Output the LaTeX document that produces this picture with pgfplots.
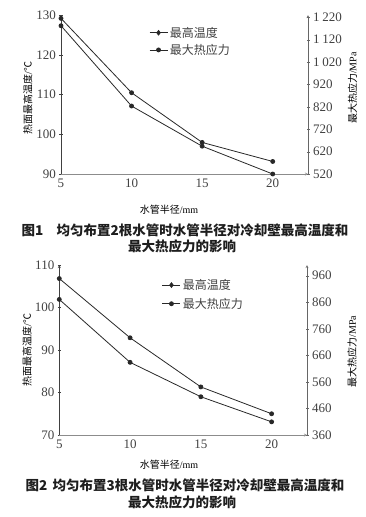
\documentclass[border=0pt]{standalone}
\usepackage{pgfplots}
\pgfplotsset{compat=1.18}
\usepackage{fontspec}
\setmainfont{Liberation Serif}
\newfontfamily\cjk{Noto Sans CJK SC}
\definecolor{txt}{RGB}{65,65,65}
\definecolor{cap}{RGB}{30,30,30}
\definecolor{ln}{RGB}{40,40,40}
\pgfplotsset{
  base/.style={
    scale only axis, clip=false,
    xmin=5, xmax=22.5, xtick={5,10,15,20},
    /pgf/number format/assume math mode=true,
    /pgf/number format/1000 sep={\hspace{0.22em}},
    ticklabel style={font=\fontsize{13}{13}\selectfont, text=txt},
    tick align=outside, major tick length=3pt,
    xtick style={draw=none},
    axis line style={-},
    label style={font=\fontsize{12}{12}\selectfont, text=txt},
  },
  ser/.style={color=ln, line width=0.8pt, mark=*, mark size=2pt},
}
\begin{document}
\begin{tikzpicture}
\path[use as bounding box] (0pt,0pt) rectangle (366pt,-517pt);
% ---------------- Chart 1 ----------------
\begin{axis}[base, at={(61pt,-174pt)}, anchor=south west, width=247pt, height=159pt,
  axis x line=bottom, axis y line=left,
  x axis line style={black!45}, y axis line style={black!75},
  ytick style={black!75},
  ymin=90, ymax=130, ytick={90,100,110,120,130},
  xlabel={{\cjk 水管半径}/mm},
  every axis x label/.style={at={(axis description cs:0.437,-0.226)}, anchor=center},
  ylabel={{\cjk 热面最高温度}/{\cjk ℃}},
  every axis y label/.style={at={(axis description cs:-0.134,0.48)}, rotate=90, anchor=center},
]
\addplot[ser] coordinates {(5,127.3) (10,107.1) (15,97.0) (20,90.0)};
\end{axis}
\begin{axis}[base, at={(61pt,-174pt)}, anchor=south west, width=247pt, height=159pt,
  axis x line=none, axis y line=right,
  y axis line style={black!60}, ytick style={black!60},
  ymin=520, ymax=1230, ytick={520,620,720,820,920,1020,1120,1220},
  ylabel={{\cjk 最大热应力}/MPa},
  every axis y label/.style={at={(axis description cs:1.18,0.54)}, rotate=90, anchor=center},
  legend style={at={(axis description cs:0.352,0.945)}, anchor=north west, draw=none, fill=none,
    font=\cjk\fontsize{12}{12}\selectfont, text=txt, row sep=1.5pt, inner sep=1pt},
  legend cell align=left,
  legend image code/.code={\draw[mark repeat=2,mark phase=2,#1] plot coordinates {(0pt,0pt) (9pt,0pt) (18pt,0pt)};},
]
\addlegendimage{ser, mark=diamond*, mark size=2.3pt}
\addlegendentry{最高温度}
\addplot[ser] coordinates {(5,1215) (10,883) (15,661) (20,576)};
\addlegendentry{最大热应力}
\end{axis}
\node[font=\cjk\bfseries\fontsize{13.5}{14}\selectfont, text=cap, anchor=center] at (185pt,-230pt) {图1\hspace{1em}均匀布置2根水管时水管半径对冷却壁最高温度和};
\node[font=\cjk\bfseries\fontsize{13.5}{14}\selectfont, text=cap, anchor=center] at (182pt,-246pt) {最大热应力的影响};
% ---------------- Chart 2 ----------------
\begin{axis}[base, at={(59.3pt,-435pt)}, anchor=south west, width=247.7pt, height=170pt,
  axis x line=bottom, axis y line=left,
  x axis line style={black!45}, y axis line style={black!75},
  ytick style={black!75},
  ymin=70, ymax=110, ytick={70,80,90,100,110},
  xlabel={{\cjk 水管半径}/mm},
  every axis x label/.style={at={(axis description cs:0.443,-0.176)}, anchor=center},
  ylabel={{\cjk 热面最高温度}/{\cjk ℃}},
  every axis y label/.style={at={(axis description cs:-0.13,0.5)}, rotate=90, anchor=center},
]
\addplot[ser] coordinates {(5,101.9) (10,87.1) (15,79.0) (20,73.1)};
\end{axis}
\begin{axis}[base, at={(59.3pt,-435pt)}, anchor=south west, width=247.7pt, height=170pt,
  axis x line=none, axis y line=right,
  y axis line style={black!60}, ytick style={black!60},
  ymin=360, ymax=1000, ytick={360,460,560,660,760,860,960},
  ylabel={{\cjk 最大热应力}/MPa},
  every axis y label/.style={at={(axis description cs:1.182,0.49)}, rotate=90, anchor=center},
  legend style={at={(axis description cs:0.41,0.935)}, anchor=north west, draw=none, fill=none,
    font=\cjk\fontsize{12}{12}\selectfont, text=txt, row sep=3pt, inner sep=1pt},
  legend cell align=left,
  legend image code/.code={\draw[mark repeat=2,mark phase=2,#1] plot coordinates {(0pt,0pt) (9pt,0pt) (18pt,0pt)};},
]
\addlegendimage{ser, mark=diamond*, mark size=2.3pt}
\addlegendentry{最高温度}
\addplot[ser] coordinates {(5,949) (10,726) (15,541) (20,440)};
\addlegendentry{最大热应力}
\end{axis}
\node[font=\cjk\bfseries\fontsize{13.5}{14}\selectfont, text=cap, anchor=center] at (185pt,-485pt) {图2\hspace{0.4em}均匀布置3根水管时水管半径对冷却壁最高温度和};
\node[font=\cjk\bfseries\fontsize{13.5}{14}\selectfont, text=cap, anchor=center] at (182pt,-502pt) {最大热应力的影响};
\end{tikzpicture}
\end{document}
